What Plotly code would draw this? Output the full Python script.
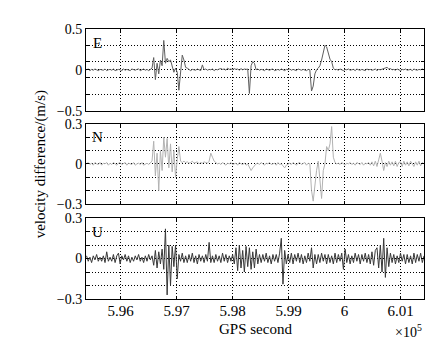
import plotly.graph_objects as go
from plotly.subplots import make_subplots

# ---------------- data ----------------
t_start = 595390   # GPS second of first sample
t_step = 30        # sampling interval (s)

E = [0.00, 0.01, -0.01, 0.005, -0.005, 0.01, 0.00, -0.01, 0.005, 0.00,
     -0.005, 0.01, -0.01, 0.00, 0.005, -0.005, 0.01, -0.01, 0.00, 0.005,
     0.00, -0.01, 0.01, -0.005, 0.005, 0.00, -0.01, 0.01, 0.00, -0.005,
     0.005, 0.01, -0.01, 0.00, 0.01, -0.005, 0.005, -0.01, 0.01,
     0.02, 0.15, -0.12, 0.08, -0.05, 0.12, 0.05, 0.36, 0.08, 0.14, 0.10,
     0.12, 0.05, -0.03, 0.02, -0.03, -0.25, -0.05, 0.18, 0.12, 0.03,
     0.02, 0.01, -0.01, 0.005, 0.00, -0.005, 0.01, 0.00, -0.01, 0.06,
     0.00, 0.01, -0.005, 0.005, 0.00, 0.01, -0.01, 0.005, 0.00, 0.01,
     0.015, 0.005, 0.01, -0.005, 0.02, 0.005, 0.01, 0.00, 0.015, 0.005,
     0.01, -0.005, 0.015, 0.00, 0.01, 0.005, 0.01,
     -0.29, 0.05, 0.10, 0.08, 0.00,
     0.01, -0.005, 0.005, 0.00, -0.01, 0.01, 0.00, -0.005, 0.005, 0.01,
     -0.01, 0.00, 0.005, -0.005, 0.01, 0.00, -0.01, 0.005, 0.00, 0.01,
     -0.005, 0.005, 0.00, -0.01, 0.01, 0.00, -0.005, 0.005, 0.00, -0.01, 0.005, 0.00,
     -0.26, -0.20, -0.05, 0.00, 0.02, 0.05, 0.12, 0.20, 0.30, 0.28, 0.20, 0.13, 0.10, 0.02,
     0.00, 0.005, -0.005, 0.01, 0.00, -0.01, 0.005, 0.00, 0.01, -0.005,
     0.00, 0.005, -0.01, 0.01, 0.00, -0.005, 0.005, 0.00, -0.01, 0.01,
     0.00, 0.005, -0.005, 0.00, 0.01, -0.01, 0.005, 0.00, 0.01, 0.015,
     0.02, 0.03, 0.01, 0.015, 0.00, 0.005, -0.005, 0.01, 0.00, -0.01,
     0.005, 0.00, 0.01, -0.005, 0.00, 0.005, -0.01, 0.01, 0.00, -0.005,
     0.005, 0.00, 0.01, 0.00]

N = [0.00, 0.01, -0.005, 0.005, -0.01, 0.01, 0.00, -0.005, 0.01, -0.01,
     0.005, 0.00, 0.01, -0.01, 0.005, -0.005, 0.01, 0.00, -0.01, 0.005,
     0.01, -0.005, 0.00, 0.01, -0.01, 0.005, 0.00, -0.005, 0.01, -0.01,
     0.00, 0.005, -0.005, 0.01, -0.01, 0.00, 0.005, -0.005, 0.01,
     0.02, 0.17, -0.09, 0.08, -0.20, 0.10, -0.05, 0.20, 0.05, 0.19, -0.03,
     0.15, -0.06, 0.10, -0.10, 0.03,
     0.13, 0.02, 0.01, 0.02,
     0.01, 0.015, 0.005, 0.01, 0.02, 0.005, 0.01, 0.015, 0.00, 0.01,
     0.005, 0.015, 0.01, 0.005, 0.02,
     0.08, 0.05, 0.02, 0.01,
     0.00, 0.005, -0.005, 0.01, 0.00, -0.01, 0.005, 0.00, 0.01, -0.005,
     0.00, 0.005, -0.01, 0.01, 0.00, -0.005, 0.005, -0.01, 0.00,
     -0.02, -0.05, -0.03, -0.01,
     0.00, 0.005, -0.005, 0.01, 0.00, -0.01, 0.005, 0.00, 0.01, -0.005,
     0.00, 0.005, -0.01, 0.01, -0.005, 0.00, -0.015, -0.03, -0.01, 0.00,
     0.005, -0.005, 0.01, 0.00, -0.01, 0.005, 0.01, -0.005, 0.00, 0.01, -0.01, 0.005, 0.00,
     -0.20, -0.28, -0.15, -0.05, 0.02, -0.10, -0.26, -0.05, 0.00, 0.13, 0.10, 0.15, 0.28, 0.05, 0.01,
     0.00, 0.005, -0.005, 0.01, 0.00, -0.01, 0.005, 0.00, 0.01, -0.005,
     0.005, -0.01, 0.01, 0.00, -0.005, 0.01, -0.01, 0.005, 0.00, 0.01,
     -0.01, 0.015, -0.015, 0.02, -0.02, 0.03, 0.08, 0.02, -0.05, 0.01,
     -0.02, 0.02, -0.01, 0.015, -0.015, 0.02, -0.02, 0.01, 0.015, -0.02,
     0.02, -0.01, 0.015, -0.015, 0.02, 0.00, -0.02, 0.015, -0.01, 0.02,
     -0.015, 0.01, 0.00]

U = [0.02, -0.02, 0.01, -0.03, 0.02, -0.01, 0.03, -0.02, 0.01, -0.02,
     0.02, -0.03, 0.05, -0.02, 0.01, -0.02, 0.03, -0.03, 0.02, 0.04,
     -0.04, 0.02, -0.01, 0.03, -0.02, 0.02, -0.03, 0.01, -0.02, 0.02,
     -0.01, 0.03, -0.02, 0.01, -0.03, 0.02, -0.02, 0.03, -0.01, 0.02,
     -0.05, 0.06, -0.07, 0.05, -0.04, 0.07, -0.08, 0.22, -0.27, 0.10, -0.20, 0.09, -0.06, 0.10, -0.15,
     0.03, -0.02, 0.04, -0.03, 0.02, -0.03, 0.03, -0.02, 0.04, -0.03,
     0.02, -0.04, 0.03, -0.02, 0.02, -0.03, 0.03, -0.02,
     0.12, -0.03,
     0.02, -0.03, 0.03, -0.02, 0.02, -0.03, 0.04, -0.02, 0.03, -0.03, 0.02, -0.02, 0.03, -0.04,
     0.08, -0.09, 0.10, -0.07, 0.06, -0.10, 0.09, -0.06, 0.08, -0.08, 0.05, -0.07, 0.07, -0.04, 0.03,
     -0.03, 0.03, -0.02, 0.04, -0.03, 0.02, -0.04, 0.03, -0.02, 0.03, -0.03, 0.04,
     0.15, -0.19, 0.06, -0.04,
     0.03, -0.03, 0.04, -0.04, 0.03, -0.02, 0.04, -0.03, 0.03, -0.04, 0.02, -0.03, 0.04, -0.02,
     0.08, -0.07,
     0.03, -0.04, 0.03, -0.03, 0.04, -0.02, 0.03, -0.04, 0.03, -0.03, 0.02, -0.04, 0.04, -0.03, 0.03, -0.02, 0.04,
     -0.08, 0.07,
     -0.03, 0.03, -0.04, 0.02, -0.03, 0.04, -0.02, 0.03, -0.04, 0.03, -0.02, 0.04, -0.03, 0.03, -0.04, 0.05, -0.05, 0.06,
     0.08, -0.07, 0.10, -0.10, 0.15, -0.14, 0.08, -0.06,
     0.04, -0.03, 0.03, -0.04, 0.02, -0.03, 0.04, -0.02, 0.03, -0.04,
     0.03, -0.03, 0.02, -0.04, 0.04, -0.03, 0.03, -0.02, 0.04, -0.03, 0.02]

x_tick_vals = [596000, 597000, 598000, 599000, 600000, 601000]
x_tick_labels = ["5.96", "5.97", "5.98", "5.99", "6", "6.01"]
e_tick_vals = [-0.5, -0.3, -0.1, 0, 0.1, 0.3, 0.5]
e_tick_labels = ["\u22120.5", "", "", "0", "", "", "0.5"]
nu_tick_vals = [-0.3, -0.2, -0.1, 0, 0.1, 0.2, 0.3]
nu_tick_labels = ["\u22120.3", "", "", "0", "", "", "0.3"]

panels = [
    ("E", E, "#5e5e5e", [-0.5, 0.5], e_tick_vals, e_tick_labels),
    ("N", N, "#b2b2b2", [-0.3, 0.3], nu_tick_vals, nu_tick_labels),
    ("U", U, "#383838", [-0.3, 0.3], nu_tick_vals, nu_tick_labels),
]

FONT = "Liberation Serif"
GRID_DASH = "1px,2px"

fig = make_subplots(rows=3, cols=1, shared_xaxes=True)
domains = [[0.6977, 1.0], [0.3526, 0.6485], [0.0, 0.2997]]

for i, (name, vals, color, yr, tv, tt) in enumerate(panels):
    row = i + 1
    xs = [t_start + t_step * k for k in range(len(vals))]
    fig.add_trace(go.Scatter(x=xs, y=vals, mode="lines",
                             line=dict(color=color, width=1),
                             showlegend=False, hoverinfo="skip"),
                  row=row, col=1)
    fig.update_yaxes(range=yr, tickvals=tv, ticktext=tt, domain=domains[i],
                     tickfont=dict(family=FONT, size=14, color="black"),
                     showline=True, linecolor="black", linewidth=1, mirror="ticks",
                     ticks="inside", ticklen=3, tickcolor="black",
                     showgrid=True, gridcolor="black", gridwidth=1, griddash=GRID_DASH,
                     zeroline=False, automargin=False, row=row, col=1)
    fig.update_xaxes(range=[595380, 601420], tickvals=x_tick_vals,
                     ticktext=x_tick_labels if row == 3 else [""] * len(x_tick_vals),
                     showticklabels=(row == 3), ticklabelstandoff=-2,
                     tickfont=dict(family=FONT, size=15, color="black"),
                     showline=True, linecolor="black", linewidth=1, mirror="ticks",
                     ticks="inside", ticklen=3, tickcolor="black",
                     showgrid=True, gridcolor="black", gridwidth=1, griddash=GRID_DASH,
                     zeroline=False, automargin=False, row=row, col=1)
    yref = "y domain" if row == 1 else f"y{row} domain"
    xref = "x domain" if row == 1 else f"x{row} domain"
    fig.add_annotation(text=name, x=0.035, y=0.83, xref=xref, yref=yref,
                       showarrow=False, xanchor="center", yanchor="middle",
                       font=dict(family=FONT, size=15, color="black"))

fig.add_annotation(text="velocity difference/(m/s)", x=-0.135, y=0.5,
                   xref="paper", yref="paper", textangle=-90, showarrow=False,
                   xanchor="center", yanchor="middle",
                   font=dict(family=FONT, size=15, color="black"))
fig.add_annotation(text="GPS second", x=0.5, y=-0.11, xref="paper", yref="paper",
                   showarrow=False, xanchor="center", yanchor="middle",
                   font=dict(family=FONT, size=15, color="black"))
fig.add_annotation(text="\u00d710<sup>5</sup>", x=0.955, y=-0.12, xref="paper", yref="paper",
                   showarrow=False, xanchor="center", yanchor="middle",
                   font=dict(family=FONT, size=14, color="black"))

# page body adds an 8px offset, so the figure is 8px smaller and its
# left/top margins 8px narrower to keep the plot area where the reference has it
fig.update_layout(width=438, height=337,
                  margin=dict(l=78, r=22, t=21, b=46),
                  paper_bgcolor="white", plot_bgcolor="white",
                  font=dict(family=FONT, size=15, color="black"))

fig.write_html("out.html")
